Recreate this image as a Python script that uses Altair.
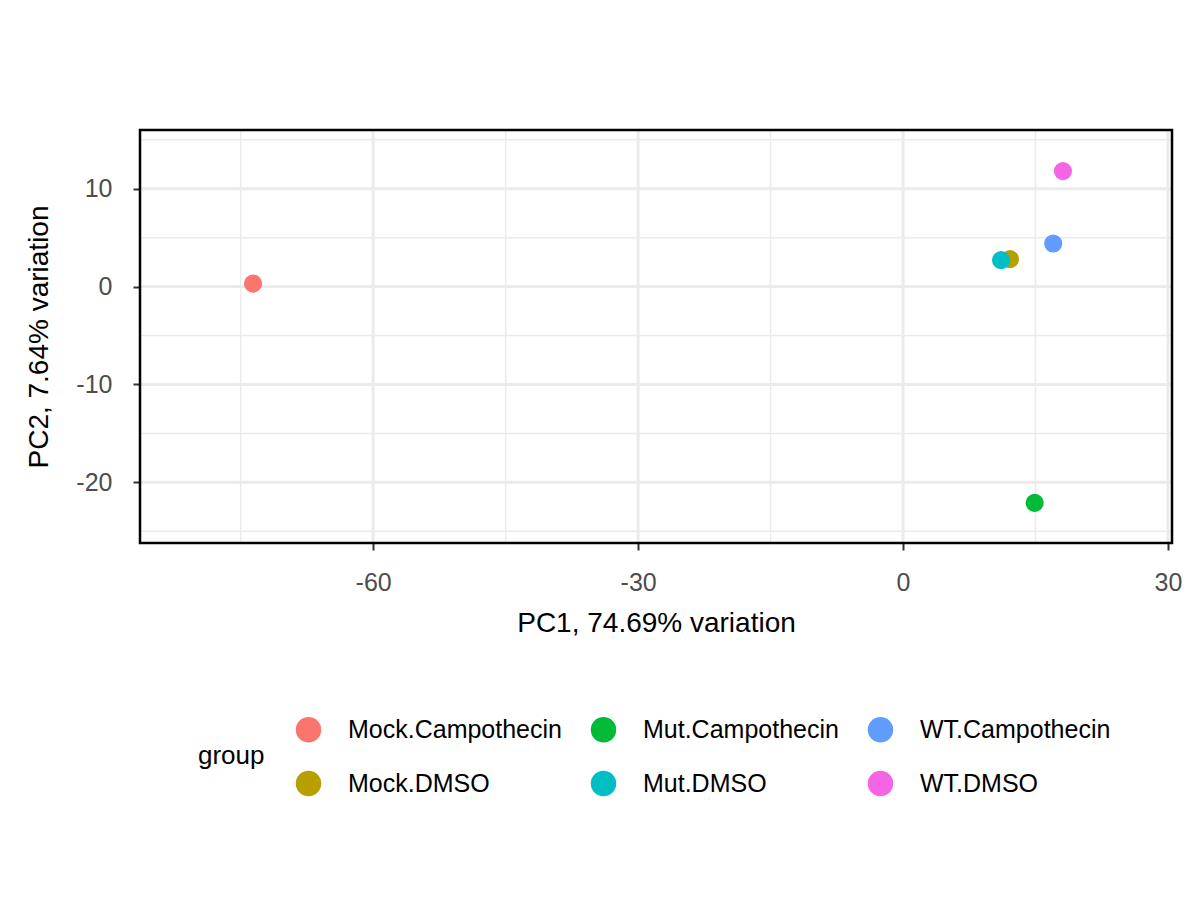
import pandas as pd
import altair as alt

groups = ["Mock.Campothecin", "Mock.DMSO", "Mut.Campothecin", "Mut.DMSO", "WT.Campothecin", "WT.DMSO"]
pc1 = [-73.6, 12.1, 14.9, 11.1, 17.0, 18.1]
pc2 = [0.3, 2.8, -22.1, 2.7, 4.4, 11.8]
colors = ["#F8766D", "#B79F00", "#00BA38", "#00BFC4", "#619CFF", "#F564E3"]

x_major = [-60, -30, 0, 30]
x_minor = [-75, -45, -15, 15]
y_major = [-20, -10, 0, 10]
y_minor = [-25, -15, -5, 5, 15]

df = pd.DataFrame({"PC1": pc1, "PC2": pc2, "group": groups})
xs = alt.Scale(domain=[-86.4, 30.45], nice=False, zero=False)
ys = alt.Scale(domain=[-26.2, 16.0], nice=False, zero=False)
grey = "#EBEBEB"

def ax(vals, lpad, tpad):
    return alt.Axis(values=vals, grid=False, tickColor="#333333", tickSize=7, tickWidth=2,
                    labelFontSize=25, labelColor="#4D4D4D", titleFontSize=28,
                    titleColor="black", titleFontWeight="normal", labelPadding=lpad,
                    titlePadding=tpad, domain=False, labelExpr="toString(datum.value)")

xa = ax(x_major, 20, 14)
ya = ax(y_major, 21, 22)
xt = "PC1, 74.69% variation"
yt = "PC2, 7.64% variation"

def vgrid(vals, w):
    return alt.Chart(pd.DataFrame({"v": vals})).mark_rule(color=grey, strokeWidth=w).encode(
        x=alt.X("v:Q", scale=xs, axis=xa, title=xt))

def hgrid(vals, w):
    return alt.Chart(pd.DataFrame({"v": vals})).mark_rule(color=grey, strokeWidth=w).encode(
        y=alt.Y("v:Q", scale=ys, axis=ya, title=yt))

points = alt.Chart(df).mark_circle(size=330, opacity=1).encode(
    x=alt.X("PC1:Q", scale=xs, title=xt, axis=xa),
    y=alt.Y("PC2:Q", scale=ys, title=yt, axis=ya),
    color=alt.Color("group:N", scale=alt.Scale(domain=groups, range=colors),
                    legend=alt.Legend(orient="none", legendX=58, legendY=586, columns=3,
                                      titleOrient="left", title="group", titleFontSize=26,
                                      titleFontWeight="normal", titleColor="black",
                                      labelFontSize=25, labelColor="black", symbolSize=650,
                                      symbolType="circle", rowPadding=27, columnPadding=28,
                                      titlePadding=30, titleAnchor="middle", labelOffset=26,
                                      labelLimit=400)),
)

frame = alt.Chart(pd.DataFrame({"a": [0]})).mark_rect(
    fill=None, stroke="black", strokeWidth=2.5
).encode(x=alt.value(0), x2=alt.value(1032), y=alt.value(0), y2=alt.value(413))

chart = alt.layer(
    vgrid(x_minor, 1.5), hgrid(y_minor, 1.5), vgrid(x_major, 3), hgrid(y_major, 3), points, frame
).properties(
    width=1032, height=413, autosize=alt.AutoSizeParams(type="none"),
    padding={"left": 132, "top": 122, "right": 20, "bottom": 350},
).configure_view(stroke=None).configure(font="Liberation Sans")

chart.save("out.html", embed_options={"renderer": "svg", "actions": False})
